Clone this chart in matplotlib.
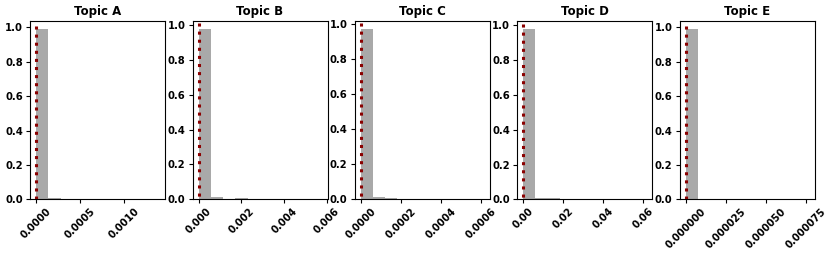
import numpy as np
import matplotlib
matplotlib.use("Agg")
import matplotlib.pyplot as plt

plt.rcParams['font.family'] = ['DejaVu Sans']
plt.rcParams['font.weight'] = 'bold'

topics = ["Topic A", "Topic B", "Topic C", "Topic D", "Topic E"]
# max value of each topic's distribution (histogram range is 0..max, 10 bins)
range_max = [0.0014, 0.00574, 0.00061, 0.0615, 0.0000764]
# fraction of values per bin
heights_A = [0.99, 0.005, 0.002, 0.001, 0.0006, 0.0004, 0.0003, 0.0002, 0.0001, 0.0001]
heights_B = [0.975, 0.012, 0.004, 0.005, 0.002, 0.001, 0.0005, 0.0003, 0.0002, 0.0001]
heights_C = [0.972, 0.013, 0.005, 0.004, 0.002, 0.001, 0.001, 0.0005, 0.0003, 0.0002]
heights_D = [0.978, 0.008, 0.005, 0.004, 0.002, 0.001, 0.001, 0.0005, 0.0003, 0.0002]
heights_E = [0.99, 0.004, 0.002, 0.001, 0.0008, 0.0005, 0.0003, 0.0002, 0.0001, 0.0001]
all_heights = [heights_A, heights_B, heights_C, heights_D, heights_E]
medians = [0.0, 0.0, 0.0, 0.0, 0.0]
xticks = [
    [0.0, 0.0005, 0.0010],
    [0.000, 0.002, 0.004, 0.006],
    [0.0000, 0.0002, 0.0004, 0.0006],
    [0.00, 0.02, 0.04, 0.06],
    [0.000000, 0.000025, 0.000050, 0.000075],
]
xfmt = ["{:.4f}", "{:.3f}", "{:.4f}", "{:.2f}", "{:.6f}"]

W, H = 830, 254
fig = plt.figure(figsize=(W / 100, H / 100), dpi=100)
lefts = [30, 192.5, 354.5, 517, 679.5]
aw, ab, ah = 135, 54.7, 178.6

for i, t in enumerate(topics):
    ax = fig.add_axes([lefts[i] / W, ab / H, aw / W, ah / H])
    edges = np.linspace(0, range_max[i], len(all_heights[i]) + 1)
    ax.bar(edges[:-1], all_heights[i], width=np.diff(edges), align='edge',
           color='darkgray', edgecolor='none')
    top = max(all_heights[i]) * 1.05
    ax.vlines(medians[i], 1.01, 0, colors='darkred', linestyles=':', linewidth=2.2)
    ax.set_ylim(0, top)
    ax.set_xticks(xticks[i])
    ax.set_xticklabels([xfmt[i].format(v) for v in xticks[i]], rotation=45,
                       fontsize=7.2, fontweight='bold')
    ax.set_yticks([0.0, 0.2, 0.4, 0.6, 0.8, 1.0])
    ax.set_yticklabels(["0.0", "0.2", "0.4", "0.6", "0.8", "1.0"], fontsize=7.2,
                       fontweight='bold')
    ax.tick_params(length=3, pad=2)
    ax.set_title(t, fontsize=8.5, fontweight='bold', pad=4)
    ax.set_xlim(-0.05 * range_max[i], range_max[i] * 1.05)

fig.savefig("out.png", dpi=100)
